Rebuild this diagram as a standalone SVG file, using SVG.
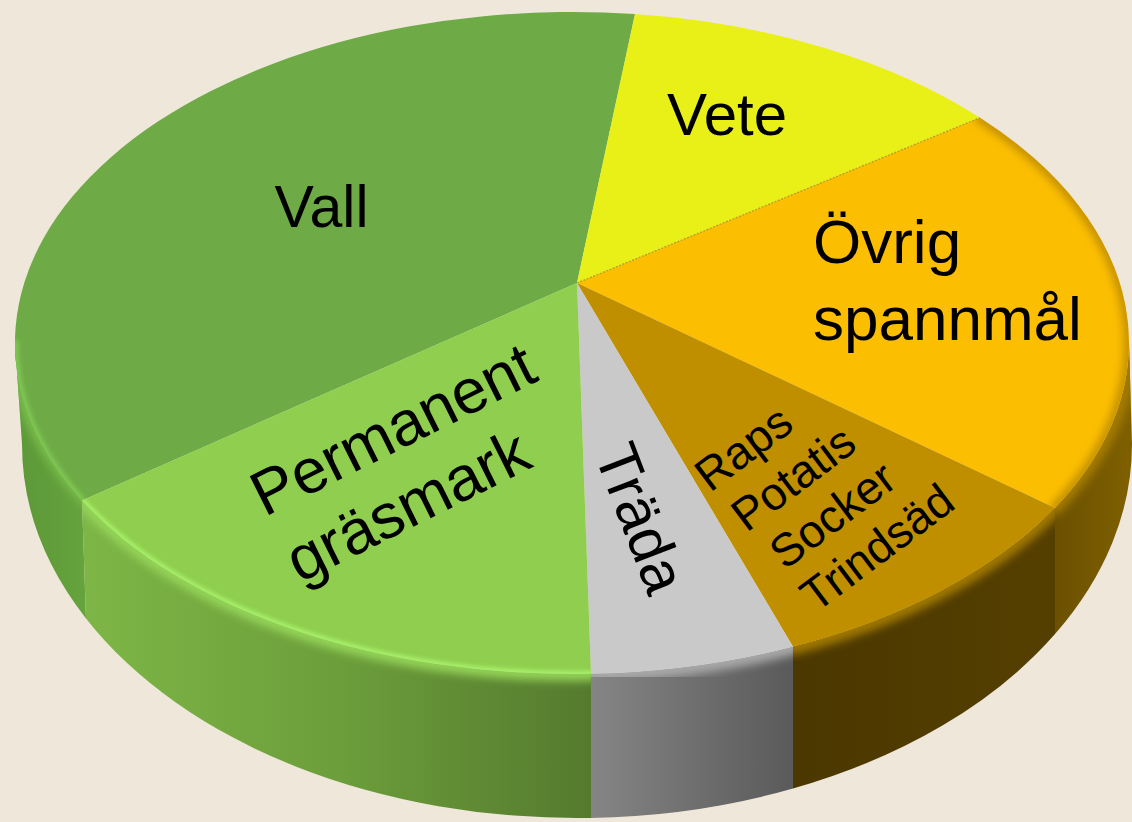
<svg xmlns="http://www.w3.org/2000/svg" width="1132" height="822" viewBox="0 0 1132 822">
  <defs>
    <style>
      .lbl { font-family: "Liberation Sans", Arial, "DejaVu Sans", sans-serif; fill: #000; }
      .rim { fill: none; stroke-linecap: round; }
    </style>
    <filter id="soft" x="-10%" y="-10%" width="120%" height="120%">
      <feGaussianBlur stdDeviation="4"/>
    </filter>
    <filter id="soft2" x="-10%" y="-10%" width="120%" height="120%">
      <feGaussianBlur stdDeviation="2"/>
    </filter>
    <linearGradient id="gVallSide" gradientUnits="userSpaceOnUse" x1="15" y1="0" x2="90" y2="0">
      <stop offset="0" stop-color="#5C9838"/>
      <stop offset="1" stop-color="#66A43D"/>
    </linearGradient>
    <linearGradient id="gPermSide" gradientUnits="userSpaceOnUse" x1="86" y1="0" x2="591" y2="0">
      <stop offset="0" stop-color="#7DB646"/>
      <stop offset="0.5" stop-color="#6C9E3B"/>
      <stop offset="1" stop-color="#557A2E"/>
    </linearGradient>
    <linearGradient id="gTradaSide" gradientUnits="userSpaceOnUse" x1="591" y1="0" x2="793" y2="0">
      <stop offset="0" stop-color="#858585"/>
      <stop offset="1" stop-color="#5A5A5A"/>
    </linearGradient>
    <linearGradient id="gRapsSide" gradientUnits="userSpaceOnUse" x1="793" y1="0" x2="1055" y2="0">
      <stop offset="0" stop-color="#4B3800"/>
      <stop offset="1" stop-color="#553F00"/>
    </linearGradient>
    <linearGradient id="gOvrigSide" gradientUnits="userSpaceOnUse" x1="1055" y1="0" x2="1132" y2="0">
      <stop offset="0" stop-color="#6B5000"/>
      <stop offset="1" stop-color="#7F6000"/>
    </linearGradient>
    <clipPath id="cVallSide"><path d="M82 500.4 A557 331 0 0 1 15 343 L22 444 A555 374 0 0 0 86 618.4 Z"/></clipPath>
    <clipPath id="cPermSide"><path d="M591 673.8 A557 331 0 0 1 82 500.4 L86 618.4 A555 374 0 0 0 591 817.9 Z"/></clipPath>
    <clipPath id="cTradaSide"><path d="M793 646.8 A557 331 0 0 1 591 673.8 L591 817.9 A555 374 0 0 0 793 788.5 Z"/></clipPath>
    <clipPath id="cRapsSide"><path d="M1055 507.9 A557 331 0 0 1 793 646.8 L793 788.5 A555 374 0 0 0 1055 634.1 Z"/></clipPath>
    <clipPath id="cOvrigSide"><path d="M1129 343 A557 331 0 0 1 1055 507.9 L1055 634.1 A555 374 0 0 0 1132 444 Z"/></clipPath>
    <clipPath id="cOvrigTop"><path d="M577 283 L980 117.7 A557 331 0 0 1 1055 507.9 Z"/></clipPath>
    <clipPath id="cPermTop"><path d="M577 283 L591 673.8 A557 331 0 0 1 82 500.4 Z"/></clipPath>
    <clipPath id="cVallTop"><path d="M577 283 L82 500.4 A557 331 0 0 1 635 14.1 Z"/></clipPath>
  </defs>

  <rect x="0" y="0" width="1132" height="822" fill="#F0E7DB"/>

  <g id="slice-vall">
    <path d="M82 500.4 A557 331 0 0 1 15 343 L22 444 A555 374 0 0 0 86 618.4 Z" fill="url(#gVallSide)"/>
    <path class="rim" d="M86 500 A557 331 0 0 1 13 343" stroke="#79BD4C" stroke-width="12" filter="url(#soft)" clip-path="url(#cVallSide)"/>
    <path d="M577 283 L82 500.4 A557 331 0 0 1 635 14.1 Z" fill="#6EAB46"/>
    <path class="rim" d="M82 500.4 A557 331 0 0 1 15 343" stroke="#80C853" stroke-width="7" filter="url(#soft2)" clip-path="url(#cVallTop)"/>
    <text class="lbl" x="321.5" y="227" font-size="59" text-anchor="middle">Vall</text>
  </g>

  <g id="slice-vete">
    <path d="M577 283 L635 14.1 A557 331 0 0 1 980 117.7 Z" fill="#E9F018"/>
    <text class="lbl" x="727" y="135" font-size="60" text-anchor="middle">Vete</text>
  </g>

  <g id="slice-ovrig">
    <path d="M1129 343 A557 331 0 0 1 1055 507.9 L1055 634.1 A555 374 0 0 0 1132 444 Z" fill="url(#gOvrigSide)"/>
    <path class="rim" d="M1131 343 A557 331 0 0 1 1055 507.9" stroke="#A47C00" stroke-width="14" filter="url(#soft)" clip-path="url(#cOvrigSide)"/>
    <path d="M577 283 L980 117.7 A557 331 0 0 1 1055 507.9 Z" fill="#FCBE00"/>
    <path class="rim" d="M980 117.7 A557 331 0 0 1 1055 507.9" stroke="#C08E00" stroke-width="10" filter="url(#soft)" clip-path="url(#cOvrigTop)"/>
    <line x1="577" y1="283" x2="980" y2="117.7" stroke="#8E8A1E" stroke-width="1.2" stroke-dasharray="2 1.5" opacity="0.7"/>
    <text class="lbl" font-size="62"><tspan x="813" y="263">Övrig</tspan><tspan x="813" y="340">spannmål</tspan></text>
  </g>

  <g id="slice-raps">
    <path d="M1055 507.9 A557 331 0 0 1 793 646.8 L793 788.5 A555 374 0 0 0 1055 634.1 Z" fill="url(#gRapsSide)"/>
    <path class="rim" d="M1055 507.9 A557 331 0 0 1 793 646.8" stroke="#A07800" stroke-width="16" filter="url(#soft)" clip-path="url(#cRapsSide)"/>
    <path d="M577 283 L1055 507.9 A557 331 0 0 1 793 646.8 Z" fill="#BF8F00"/>
    <g transform="translate(710 493) rotate(-37)">
      <text class="lbl" font-size="46"><tspan x="0" y="0">Raps</tspan><tspan x="5" y="54">Potatis</tspan><tspan x="13" y="107">Socker</tspan><tspan x="12" y="160">Trindsäd</tspan></text>
    </g>
  </g>

  <g id="slice-trada">
    <path d="M793 646.8 A557 331 0 0 1 591 673.8 L591 817.9 A555 374 0 0 0 793 788.5 Z" fill="url(#gTradaSide)"/>
    <path class="rim" d="M793 646.8 A557 331 0 0 1 591 673.8" stroke="#A8A8A8" stroke-width="16" filter="url(#soft)" clip-path="url(#cTradaSide)"/>
    <path d="M577 283 L793 646.8 A557 331 0 0 1 591 673.8 Z" fill="#C9C9C9"/>
    <g transform="translate(641 518) rotate(69)">
      <text class="lbl" x="0" y="21" font-size="60" text-anchor="middle">Träda</text>
    </g>
  </g>

  <g id="slice-permanent">
    <path d="M591 673.8 A557 331 0 0 1 82 500.4 L86 618.4 A555 374 0 0 0 591 817.9 Z" fill="url(#gPermSide)"/>
    <path class="rim" d="M591 673.8 A557 331 0 0 1 82 500.4" stroke="#94D458" stroke-width="14" filter="url(#soft)" clip-path="url(#cPermSide)"/>
    <path d="M577 283 L591 673.8 A557 331 0 0 1 82 500.4 Z" fill="#8FCE4E"/>
    <path class="rim" d="M591 673.8 A557 331 0 0 1 82 500.4" stroke="#A9F26C" stroke-width="6" filter="url(#soft2)" clip-path="url(#cPermTop)"/>
    <g transform="translate(269 515) rotate(-26.5)">
      <text class="lbl" font-size="63"><tspan x="-5" y="0">Permanent</tspan><tspan x="-3" y="75">gräsmark</tspan></text>
    </g>
  </g>
</svg>
